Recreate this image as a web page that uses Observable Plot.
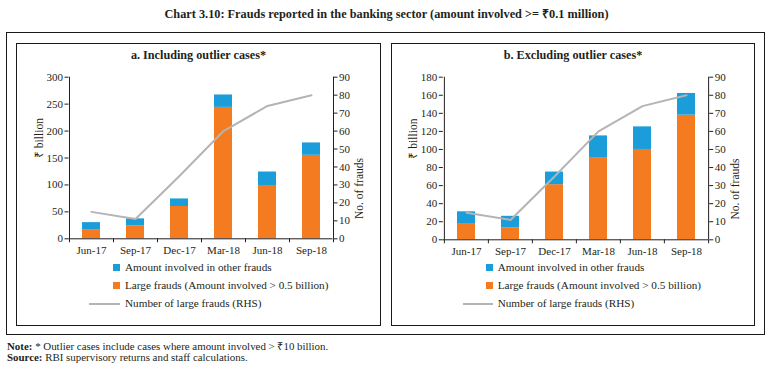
<!DOCTYPE html>
<html>
<head>
<meta charset="utf-8">
<script src="https://cdn.jsdelivr.net/npm/d3@7"></script>
<script src="https://cdn.jsdelivr.net/npm/@observablehq/plot@0.6"></script>
<style>
  html, body { margin: 0; padding: 0; background: #fff; }
  #root { position: relative; width: 773px; height: 369px; font-family: "Liberation Serif", serif; color: #231f20; overflow: hidden; }
  .abs { position: absolute; }
  .frame { position: absolute; box-sizing: border-box; border: 1.4px solid #1a1a1a; }
  .title { position: absolute; left: 0; width: 773px; top: 5px; text-align: center; font-weight: bold; font-size: 12.3px; }
  .ptitle { position: absolute; text-align: center; font-weight: bold; font-size: 12.2px; }
  .leg { position: absolute; font-size: 11.2px; white-space: nowrap; line-height: 13px; }
  .sw { position: absolute; width: 6.5px; height: 6.5px; }
  .ln { position: absolute; height: 2px; background: #b4b4b4; }
  .note { position: absolute; left: 7px; font-size: 10.9px; white-space: nowrap; }
</style>
</head>
<body>
<div id="root">
  <div class="title">Chart 3.10: Frauds reported in the banking sector (amount involved &gt;= ₹0.1 million)</div>
  <div class="frame" style="left:6px;top:31.5px;width:758.5px;height:303px;"></div>
  <div class="frame" style="left:16px;top:42.5px;width:365px;height:283px;"></div>
  <div class="frame" style="left:391px;top:42.5px;width:364px;height:283px;"></div>
  <div class="ptitle" style="left:16px;width:365px;top:48px;">a. Including outlier cases*</div>
  <div class="ptitle" style="left:391px;width:364px;top:48px;">b. Excluding outlier cases*</div>
  <div id="chartA" class="abs" style="left:16.5px;top:60px;"></div>
  <div id="chartB" class="abs" style="left:391.5px;top:60px;"></div>
  <div id="legA"></div>
  <div id="legB"></div>
  <div class="note" style="top:338px;"><b>Note:</b> * Outlier cases include cases where amount involved &gt; ₹10 billion.</div>
  <div class="note" style="top:351px;"><b>Source:</b> RBI supervisory returns and staff calculations.</div>
</div>
<script>
// ---- Data ----
const categories = ["Jun-17", "Sep-17", "Dec-17", "Mar-18", "Jun-18", "Sep-18"];
// Panel a: including outlier cases (₹ billion)
const largeA = [17, 24, 60, 244, 99, 155];
const otherA = [13, 13, 14, 23, 25, 23];
// Panel b: excluding outlier cases (₹ billion)
const largeB = [18, 13, 61, 91, 100, 138];
const otherB = [13, 13, 14, 24, 25, 24];
// Number of large frauds (RHS)
const countLarge = [15, 11, 35, 60, 74, 80];
const yTicksA = [0, 50, 100, 150, 200, 250, 300];
const yTicksB = [0, 20, 40, 60, 80, 100, 120, 140, 160, 180];
const rhsTicks = [0, 10, 20, 30, 40, 50, 60, 70, 80, 90];
const seriesNames = ["Amount involved in other frauds", "Large frauds (Amount involved > 0.5 billion)", "Number of large frauds (RHS)"];

const BLUE = "#1a9dd9";
const ORANGE = "#f47b20";
const GRAY = "#b4b4b4";
const INK = "#231f20";
const FS = 11;

function panel({large, other, yMax, yTicks, rhsMax, width, mL, mR, mB}) {
  const k = yMax / rhsMax;
  const rows = categories.flatMap((c, i) => [
    {cat: c, series: "large", v: large[i]},
    {cat: c, series: "other", v: other[i]}
  ]);
  const lineData = categories.map((c, i) => ({cat: c, n: countLarge[i]}));
  const step = (width - mL - mR) / categories.length;
  const last = categories[categories.length - 1];
  return Plot.plot({
    width, height: 200,
    marginTop: 16.7, marginBottom: mB, marginLeft: mL, marginRight: mR,
    style: {fontFamily: "Liberation Serif, serif", fontSize: FS + "px", color: INK, background: "transparent", overflow: "visible"},
    x: {domain: categories, paddingInner: 0.6, paddingOuter: 0.3, label: null, axis: null},
    y: {domain: [0, yMax], label: null, axis: null},
    color: {domain: ["large", "other"], range: [ORANGE, BLUE]},
    marks: [
      Plot.barY(rows, {x: "cat", y: "v", fill: "series"}),
      Plot.line(lineData, {x: "cat", y: d => d.n * k, stroke: GRAY, strokeWidth: 2}),
      Plot.ruleY([0], {stroke: INK, strokeWidth: 1}),
      Plot.ruleX([categories[0]], {y1: 0, y2: yMax, dx: -step / 2, stroke: INK}),
      Plot.ruleX([last], {y1: 0, y2: yMax, dx: step / 2, stroke: INK}),
      Plot.axisX({tickSize: 0, tickPadding: 7, fontSize: FS}),
      Plot.axisX({ticks: categories, tickSize: 4, dx: -step / 2, tickFormat: () => "", stroke: INK}),
      Plot.axisX({ticks: [last], tickSize: 4, dx: step / 2, tickFormat: () => "", stroke: INK}),
      Plot.axisY({anchor: "left", ticks: yTicks, tickSize: 4, tickPadding: 2, stroke: INK, fontSize: FS}),
      Plot.axisY({anchor: "right", ticks: rhsTicks.map(v => v * k), tickFormat: d => String(Math.round(d / k)), tickSize: 4, tickPadding: 2, stroke: INK, fontSize: FS}),
      Plot.text(["₹ billion"], {text: d => d, frameAnchor: "left", dx: -30, rotate: -90, fontSize: 11.5, fill: INK}),
      Plot.text(["No. of frauds"], {text: d => d, frameAnchor: "right", dx: 26.5, rotate: -90, fontSize: 11.5, fill: INK})
    ]
  });
}

document.getElementById("chartA").appendChild(panel({
  large: largeA, other: otherA, yMax: 300, yTicks: yTicksA, rhsMax: 90,
  width: 364, mL: 51.5, mR: 48.5, mB: 21.7
}));
document.getElementById("chartB").appendChild(panel({
  large: largeB, other: otherB, yMax: 180, yTicks: yTicksB, rhsMax: 90,
  width: 363, mL: 50.8, mR: 46.8, mB: 20.7
}));

function legend(el, swX, textX, lineX1, lineX2) {
  const rowsY = [267.7, 285.7, 303.7];
  const colors = [BLUE, ORANGE];
  let html = "";
  for (let i = 0; i < 2; i++) {
    html += `<div class="sw" style="left:${swX}px;top:${rowsY[i] - 3.25}px;background:${colors[i]}"></div>`;
  }
  html += `<div class="ln" style="left:${lineX1}px;width:${lineX2 - lineX1}px;top:${rowsY[2] - 1}px"></div>`;
  seriesNames.forEach((s, i) => {
    const t = s.replace(">", "&gt;");
    html += `<div class="leg" style="left:${textX}px;top:${rowsY[i] - 7}px">${t}</div>`;
  });
  el.innerHTML = html;
}
legend(document.getElementById("legA"), 113, 125, 89, 120);
legend(document.getElementById("legB"), 486, 497.7, 463, 493);
</script>
</body>
</html>
